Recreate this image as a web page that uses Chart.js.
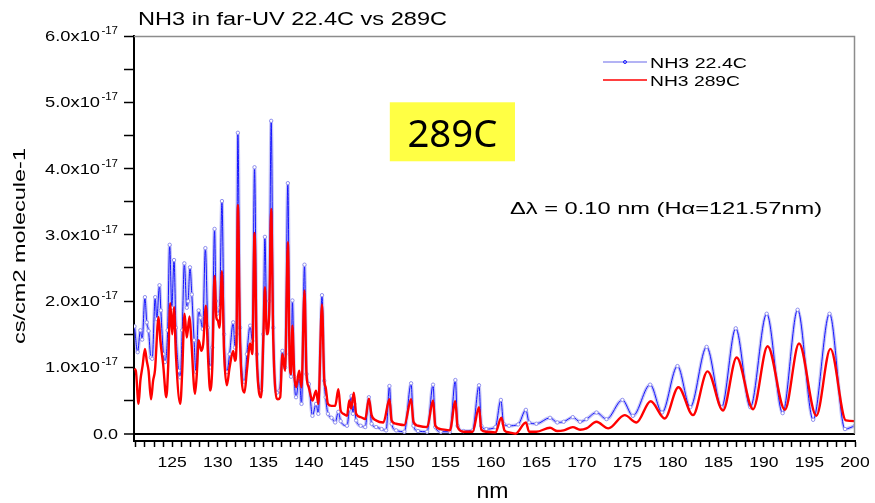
<!DOCTYPE html>
<html>
<head>
<meta charset="utf-8">
<title>NH3 far-UV</title>
<script src="https://cdn.jsdelivr.net/npm/chart.js@4.4.1/dist/chart.umd.min.js"></script>
<style>
  html, body { margin: 0; padding: 0; background: #fff; }
  #wrap { width: 875px; height: 503px; }
</style>
</head>
<body>
<div id="wrap"><canvas id="nh3Chart" width="875" height="503"></canvas></div>
<script>
// cross section in units of 1e-17 cm2/molecule, wavelength in nm

// NH3 at 22.4C
const nmCold = [
  120.85,121.2,121.5,121.7,122.0,122.2,122.4,122.65,122.8,123.13,
  123.3,123.6,123.75,124.03,124.2,124.5,124.72,124.95,125.2,125.4,
  125.7,125.88,126.1,126.33,126.6,126.75,126.95,127.15,127.4,127.6,
  127.9,128.1,128.35,128.64,128.9,129.17,129.4,129.65,129.8,129.95,
  130.2,130.46,130.7,131.0,131.3,131.7,131.9,132.05,132.21,132.45,
  132.94,133.2,133.56,133.8,134.04,134.3,134.77,135.0,135.18,135.4,
  135.65,135.87,136.1,136.5,136.8,137.1,137.4,137.7,137.9,138.05,
  138.2,138.4,138.6,138.95,139.2,139.53,139.75,140.0,140.4,140.8,
  141.05,141.45,141.7,141.85,142.1,142.5,142.9,143.25,143.5,144.2,
  144.45,144.7,144.85,145.0,145.2,145.7,146.2,146.6,146.9,147.4,
  148.0,148.5,148.86,149.1,149.6,150.5,151.24,151.5,152.0,153.0,
  153.65,153.9,154.5,155.5,156.1,156.35,157.0,158.0,158.7,158.95,
  159.5,160.5,161.1,161.4,162.0,163.0,163.85,164.2,165.0,166.5,
  167.3,168.0,169.0,169.8,170.5,171.6,172.7,174.45,175.6,177.5,
  178.8,180.5,181.9,183.7,185.35,186.9,188.5,190.3,192.05,193.7,
  195.4,197.2,198.9,200.0
];
const csCold = [
  1.62,1.23,1.56,1.42,2.06,1.68,1.55,1.15,1.13,2.06,
  1.73,2.24,1.86,1.20,1.08,1.56,2.85,1.90,2.62,1.60,
  0.95,0.85,1.56,2.57,1.90,2.00,2.51,2.10,1.41,0.93,
  1.86,1.75,1.58,2.80,1.60,1.00,1.30,3.09,2.00,1.81,
  1.90,3.51,1.50,0.93,1.20,1.68,1.30,1.50,4.54,1.60,
  0.78,1.20,1.63,1.40,4.02,1.20,0.65,1.50,2.97,1.60,
  2.00,4.72,1.60,0.62,0.65,1.25,1.00,3.78,1.20,0.86,
  2.01,0.86,0.55,0.85,0.45,2.55,0.90,0.75,0.27,0.45,
  0.30,2.09,0.80,0.55,0.30,0.24,0.17,0.33,0.19,0.12,
  0.37,0.57,0.30,0.45,0.20,0.12,0.10,0.55,0.15,0.10,
  0.07,0.05,0.72,0.15,0.05,0.03,0.76,0.12,0.04,0.03,
  0.74,0.10,0.03,0.03,0.81,0.12,0.04,0.05,0.73,0.12,
  0.07,0.10,0.51,0.15,0.12,0.14,0.36,0.17,0.15,0.24,
  0.17,0.18,0.25,0.18,0.22,0.32,0.22,0.51,0.27,0.74,
  0.32,1.02,0.40,1.31,0.40,1.59,0.40,1.81,0.31,1.87,
  0.21,1.81,0.07,0.12
];

// NH3 at 289C
const nmHot = [
  120.85,121.0,121.3,121.5,121.75,122.0,122.2,122.4,122.67,122.9,
  123.1,123.5,123.7,124.0,124.35,124.55,124.78,125.0,125.2,125.4,
  125.88,126.1,126.35,126.6,126.9,127.1,127.5,127.7,127.9,128.2,
  128.4,128.7,128.95,129.17,129.4,129.65,129.85,130.0,130.2,130.46,
  130.7,131.0,131.3,131.7,131.9,132.05,132.21,132.45,132.94,133.2,
  133.56,133.8,134.04,134.3,134.77,135.0,135.18,135.4,135.65,135.87,
  136.1,136.6,136.86,137.1,137.4,137.7,137.9,138.05,138.2,138.4,
  138.6,138.95,139.2,139.53,139.75,140.0,140.4,140.8,141.05,141.45,
  141.7,141.85,142.1,142.5,142.9,143.25,143.5,143.8,144.2,144.45,
  144.65,144.95,145.2,145.7,146.2,146.6,146.9,147.4,148.2,148.86,
  149.1,149.6,150.5,151.24,151.5,152.0,153.0,153.65,153.9,154.5,
  155.5,156.1,156.35,157.0,158.0,158.7,158.95,159.5,160.5,161.15,
  161.5,162.0,162.7,163.85,164.2,165.0,166.5,167.3,168.0,169.0,
  169.8,170.5,171.6,172.9,174.7,176.0,177.55,179.1,180.6,182.2,
  183.8,185.5,187.0,188.8,190.4,192.3,193.85,195.75,197.3,199.0,
  200.0
];
const csHot = [
  0.98,0.95,0.45,0.80,1.03,1.28,1.10,0.95,0.52,0.80,
  0.95,1.76,1.40,1.05,0.55,1.00,1.97,1.50,1.91,1.20,
  0.45,0.95,1.81,1.45,1.77,1.40,0.60,0.90,1.41,1.25,
  1.35,1.93,1.10,0.65,1.00,2.38,1.75,1.71,1.60,2.45,
  1.20,0.73,1.00,1.25,1.10,1.30,3.45,1.40,0.62,0.95,
  1.36,1.20,3.03,1.10,0.55,1.40,2.21,1.50,1.80,3.39,
  1.40,0.52,0.55,1.20,0.95,2.89,1.10,0.90,1.63,0.90,
  0.70,0.95,0.70,2.16,0.90,0.70,0.50,0.65,0.45,1.95,
  0.80,0.70,0.45,0.42,0.42,0.67,0.35,0.30,0.27,0.50,
  0.38,0.62,0.30,0.25,0.22,0.53,0.28,0.20,0.17,0.52,
  0.20,0.15,0.13,0.52,0.18,0.12,0.10,0.50,0.12,0.07,
  0.05,0.49,0.10,0.03,0.03,0.40,0.06,0.03,0.02,0.24,
  0.05,0.02,0.00,0.17,0.03,0.03,0.09,0.04,0.05,0.10,
  0.06,0.08,0.18,0.08,0.28,0.17,0.49,0.23,0.70,0.28,
  0.94,0.35,1.15,0.37,1.32,0.36,1.36,0.27,1.28,0.20,
  0.19
];

const xTickLabels = [125, 130, 135, 140, 145, 150, 155, 160, 165, 170, 175, 180, 185, 190, 195, 200];
const yTickLabels = [0, 1, 2, 3, 4, 5, 6];

const toPoints = (xs, ys) => xs.map((v, i) => ({ x: v, y: ys[i] }));
const coldPts = toPoints(nmCold, csCold);
const hotPts = toPoints(nmHot, csHot);

const SANS = '"Liberation Sans", Arial, sans-serif';

// text helper: stretch horizontally either by factor or to a given width
function drawText(ctx, str, x, y, size, opts) {
  opts = opts || {};
  ctx.font = size + 'px ' + (opts.family || SANS);
  let sx = opts.sx || 1;
  if (opts.width) sx = opts.width / ctx.measureText(str).width;
  ctx.save();
  ctx.translate(x, y);
  ctx.scale(sx, 1);
  ctx.textAlign = opts.align || 'left';
  ctx.textBaseline = 'alphabetic';
  ctx.fillStyle = opts.color || '#000';
  ctx.fillText(str, 0, 0);
  ctx.restore();
}

const decorations = {
  id: 'decorations',
  afterDraw(chart) {
    const { ctx, chartArea: a, scales: { x, y } } = chart;
    ctx.save();

    // thin frame on top and right
    ctx.strokeStyle = '#8c8c8c';
    ctx.lineWidth = 1.5;
    ctx.beginPath();
    ctx.moveTo(a.left, a.top + 0.5);
    ctx.lineTo(a.right - 0.5, a.top + 0.5);
    ctx.lineTo(a.right - 0.5, y.getPixelForValue(0));
    ctx.stroke();

    // y tick labels with exponent
    yTickLabels.forEach(v => {
      const py = y.getPixelForValue(v);
      if (v === 0) {
        drawText(ctx, '0.0', 118, py + 5, 15, { align: 'right', sx: 1.2 });
        return;
      }
      drawText(ctx, '-17', 118, py - 2, 10, { align: 'right', sx: 1.15 });
      drawText(ctx, v.toFixed(1) + 'x10', 100, py + 5, 15, { align: 'right', sx: 1.22 });
    });

    // x tick labels
    xTickLabels.forEach(v => {
      drawText(ctx, String(v), x.getPixelForValue(v), 467, 15, { align: 'center', sx: 1.17 });
    });

    // titles
    drawText(ctx, 'NH3 in far-UV 22.4C vs 289C', a.left + 4, 24.5, 19, { width: 309 });
    drawText(ctx, 'nm', (a.left + a.right) / 2 - 2, 498, 22, { align: 'center', width: 32 });
    ctx.save();
    ctx.translate(25, 246);
    ctx.rotate(-Math.PI / 2);
    drawText(ctx, 'cs/cm2 molecule-1', 0, 0, 17, { align: 'center', width: 196 });
    ctx.restore();

    // legend
    const entries = chart.data.datasets.filter(d => d.label);
    entries.forEach((d, i) => {
      const ly = 62 + i * 18;
      ctx.strokeStyle = d.legendColor || d.borderColor;
      ctx.lineWidth = 1.5;
      ctx.beginPath();
      ctx.moveTo(603, ly);
      ctx.lineTo(647, ly);
      ctx.stroke();
      if (d.pointRadius) {
        ctx.beginPath();
        ctx.arc(625, ly, 1.5, 0, Math.PI * 2);
        ctx.strokeStyle = d.borderColor;
        ctx.lineWidth = 1;
        ctx.stroke();
      }
      drawText(ctx, d.label, 650, ly + 5.5, 14, { width: i === 0 ? 97 : 90 });
    });

    // temperature badge
    const bx0 = x.getPixelForValue(148.9), bx1 = x.getPixelForValue(162.65);
    const by0 = y.getPixelForValue(5.0), by1 = y.getPixelForValue(4.11);
    ctx.fillStyle = '#ffff44';
    ctx.fillRect(bx0, by0, bx1 - bx0, by1 - by0);
    drawText(ctx, '289C', (bx0 + bx1) / 2, by0 + 45, 39, { align: 'center', width: 90, family: '"Noto Sans", "Open Sans", sans-serif' });

    // resolution note
    drawText(ctx, '\u0394\u03bb = 0.10 nm (H\u03b1=121.57nm)', 510, 214, 17, { width: 312 });

    ctx.restore();
  }
};

new Chart(document.getElementById('nh3Chart'), {
  type: 'line',
  data: {
    datasets: [
      {
        // soft band under the 22.4C trace
        label: '',
        data: coldPts,
        borderColor: 'rgba(128,128,236,0.45)',
        borderWidth: 3.5,
        pointRadius: 0,
        cubicInterpolationMode: 'monotone',
        order: 3
      },
      {
        label: 'NH3 22.4C',
        data: coldPts,
        borderColor: '#1414ff',
        legendColor: '#9a9af0',
        borderWidth: 1,
        pointRadius: 1.7,
        pointBorderWidth: 1,
        pointBorderColor: '#9090ee',
        pointBackgroundColor: '#ffffff',
        cubicInterpolationMode: 'monotone',
        order: 2
      },
      {
        label: 'NH3 289C',
        data: hotPts,
        borderColor: '#ff0000',
        borderWidth: 2.4,
        pointRadius: 0,
        cubicInterpolationMode: 'monotone',
        order: 1
      }
    ]
  },
  options: {
    responsive: false,
    animation: false,
    devicePixelRatio: 1,
    layout: { padding: { top: 36, right: 20, left: 0, bottom: 0 } },
    plugins: {
      legend: { display: false },
      title: { display: false },
      tooltip: { enabled: false }
    },
    scales: {
      x: {
        type: 'linear',
        min: 120.8,
        max: 200,
        afterFit: s => { s.height = 62; },
        border: { color: '#000', width: 2 },
        grid: { drawOnChartArea: false, tickLength: 6, tickColor: '#000', tickWidth: 1.5 },
        ticks: { stepSize: 1, includeBounds: false, autoSkip: false, callback: () => '' }
      },
      y: {
        type: 'linear',
        min: -0.11,
        max: 6,
        afterFit: s => { s.width = 134; },
        border: { color: '#000', width: 2 },
        grid: {
          drawOnChartArea: true,
          color: c => (c.tick && c.tick.value === 0 ? '#000' : 'rgba(0,0,0,0)'),
          lineWidth: c => (c.tick && c.tick.value === 0 ? 2 : 1),
          tickLength: 10,
          tickColor: '#000',
          tickWidth: 1.5
        },
        ticks: { stepSize: 0.5, includeBounds: false, callback: () => '' }
      }
    }
  },
  plugins: [decorations]
});
</script>
</body>
</html>
